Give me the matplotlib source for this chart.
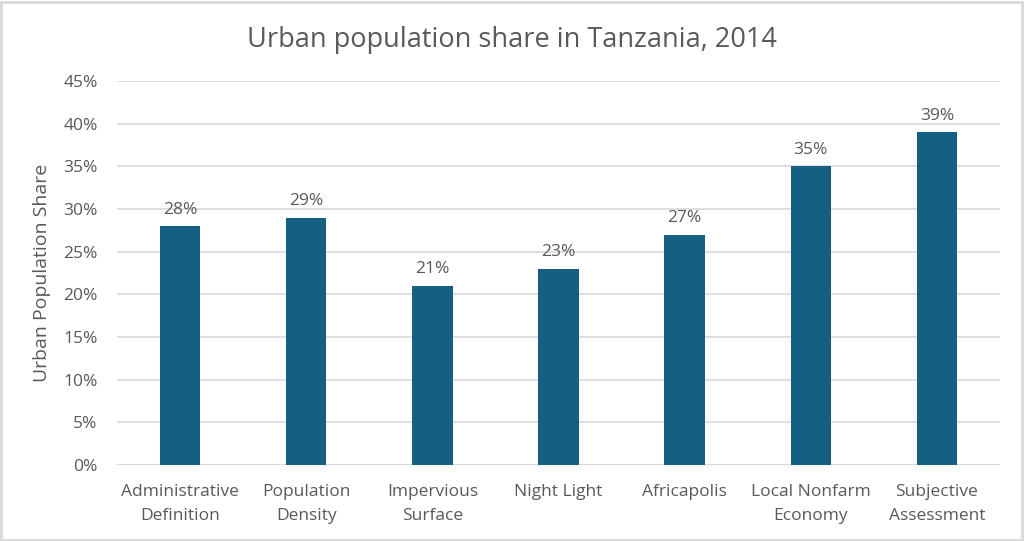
import matplotlib as mpl
mpl.use('Agg')
mpl.rcParams['font.family'] = ['Open Sans', 'DejaVu Sans']
import matplotlib.pyplot as plt
from matplotlib.patches import Rectangle
from matplotlib.ticker import FuncFormatter

categories = ['Administrative\nDefinition', 'Population\nDensity', 'Impervious\nSurface',
              'Night Light', 'Africapolis', 'Local Nonfarm\nEconomy', 'Subjective\nAssessment']
shares = [28, 29, 21, 23, 27, 35, 39]
yticks = [0, 5, 10, 15, 20, 25, 30, 35, 40, 45]

txtcol = '#595959'
barcol = '#156082'

fig = plt.figure(figsize=(10.24, 5.41), dpi=100, facecolor='w')
ax = fig.add_axes([117/1024, 1-465/541, 883/1024, (465-81)/541])

x = range(len(categories))
bars = ax.bar(x, shares, width=0.32, color=barcol, zorder=3)
for xi, v in zip(x, shares):
    ax.annotate('%d%%' % v, (xi, v), xytext=(0, 6), textcoords='offset points',
                ha='center', va='bottom', fontsize=12.5, color=txtcol)

ax.set_xlim(-0.5, len(categories) - 0.5)
ax.set_ylim(0, 45)
ax.set_yticks(yticks)
ax.yaxis.set_major_formatter(FuncFormatter(lambda v, p: '%d%%' % v))
ax.set_xticks(list(x))
ax.set_xticklabels(categories, fontsize=12.5, color=txtcol, linespacing=1.6)
ax.tick_params(axis='y', labelsize=12.5, labelcolor=txtcol, length=0, pad=14)
ax.tick_params(axis='x', length=0, pad=14)
ax.grid(axis='y', color='#D9D9D9', linewidth=1.2, zorder=0)
for s in ax.spines.values():
    s.set_visible(False)
ax.axhline(0, color='#D9D9D9', linewidth=1.2, zorder=2)

fig.text(42/1024, 1-273/541, 'Urban Population Share', rotation=90, ha='center', va='center',
         fontsize=14, color=txtcol)
fig.text(0.5, 1-40/541, 'Urban population share in Tanzania, 2014', ha='center', va='center',
         fontsize=19.5, color=txtcol)

fig.patches.append(Rectangle((0.001, 0.002), 0.997, 0.995, transform=fig.transFigure,
                             fill=False, edgecolor='#D9D9D9', linewidth=2))

plt.savefig('out.png', dpi=100, facecolor='w')
